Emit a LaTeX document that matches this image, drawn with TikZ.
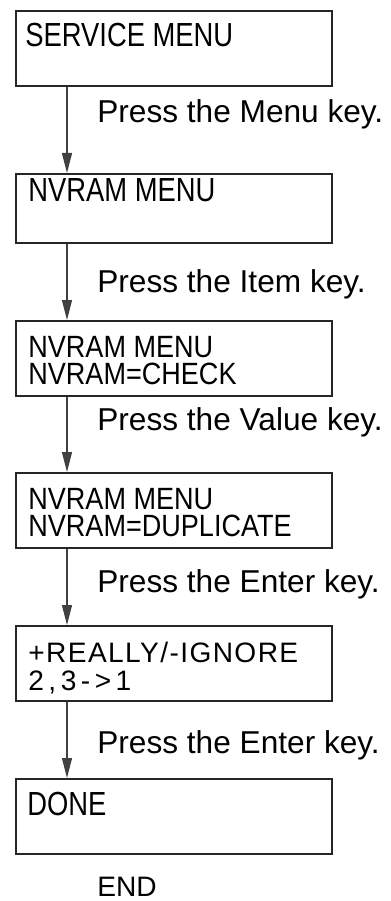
\documentclass[tikz,border=0pt]{standalone}
\usepackage{fontspec}
\setmainfont{Liberation Sans}
\newfontfamily\lcdfont[FakeStretch=0.88]{Liberation Sans}
\newfontfamily\lcdnarrow[FakeStretch=0.82]{Liberation Sans}
\newfontfamily\lcdwide[LetterSpace=5]{Liberation Sans}
\newfontfamily\lcdwider[LetterSpace=16]{Liberation Sans}
\usetikzlibrary{arrows.meta}
\begin{document}
\begin{tikzpicture}[x=0.02cm, y=-0.02cm,
	box/.style={draw=black!85, line width=1.1pt, anchor=north west, minimum width=6.32cm, minimum height=1.5cm, inner sep=0pt},
	disp/.style={anchor=north west, inner sep=0pt, align=left, font=\lcdfont\fontsize{17.5}{15.6}\selectfont},
	disp1/.style={disp, font=\lcdnarrow\fontsize{19}{15}\selectfont},
	note/.style={anchor=base west, inner sep=0pt, font=\fontsize{18}{21}\selectfont},
	flow/.style={draw=black!75, line width=0.7pt, -{Triangle[length=0.4cm, width=0.2cm]}}]
\useasboundingbox (0,0) rectangle (390,901);
% display boxes
\node[box] (b1) at (15,10) {};
\node[box, minimum height=1.38cm] (b2) at (15,173) {};
\node[box] (b3) at (15,320) {};
\node[box] (b4) at (15,472) {};
\node[box] (b5) at (15,625) {};
\node[box] (b6) at (15,778) {};
\node[disp1] (t1) at (25,23) {SERVICE MENU};
\node[disp1] (t2) at (28,178) {NVRAM MENU};
\node[disp] (t3) at (28,336) {NVRAM MENU\\NVRAM=CHECK};
\node[disp] (t4) at (28,488) {NVRAM MENU\\NVRAM=DUPLICATE};
\node[disp] (t5) at (28,642) {{\lcdwide\fontsize{16}{15.6}\selectfont +REALLY/-IGNORE}\\{\lcdwider\fontsize{16}{15.6}\selectfont 2,3->1}};
\node[disp1] (t6) at (27,792) {DONE};
% steps
\foreach \a/\b/\y/\keyname in {b1/b2/123/Menu, b2/b3/293/Item, b3/b4/430/Value, b4/b5/592/Enter, b5/b6/753/Enter}
{
	\draw[flow] ([xshift=1.04cm]\a.south west) -- ([xshift=1.04cm]\b.north west);
	\node[note] (k\a) at (97,\y) {Press the \keyname\ key.};
}
\node[note, font=\fontsize{16}{19}\selectfont] (fin) at (97,896) {END};
\end{tikzpicture}
\end{document}
